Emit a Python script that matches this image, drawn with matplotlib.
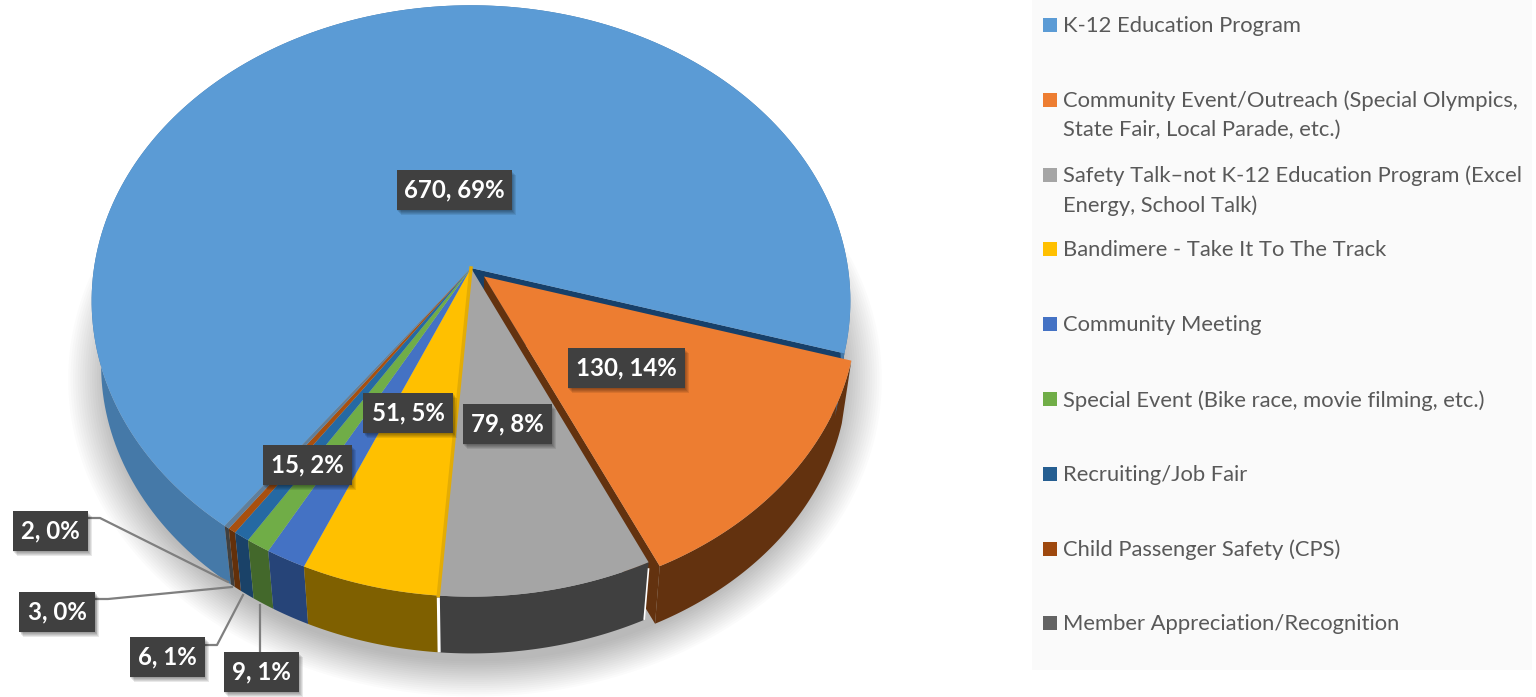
import numpy as np
import matplotlib
matplotlib.use("Agg")
import matplotlib.pyplot as plt
from matplotlib.patches import Rectangle

categories = ["K-12 Education Program",
              "Community Event/Outreach (Special Olympics,\nState Fair, Local Parade, etc.)",
              "Safety Talk\u2013not K-12 Education Program (Excel\nEnergy, School Talk)",
              "Bandimere - Take It To The Track",
              "Community Meeting",
              "Special Event (Bike race, movie filming, etc.)",
              "Recruiting/Job Fair",
              "Child Passenger Safety (CPS)",
              "Member Appreciation/Recognition"]
values = [670, 130, 79, 51, 15, 9, 6, 3, 2]
percents = [69, 14, 8, 5, 2, 1, 1, 0, 0]
colors = ["#5B9BD5", "#ED7D31", "#A5A5A5", "#FFC000", "#4472C4",
          "#70AD47", "#255E91", "#9E480E", "#636363"]
top_colors = ["#5B9BD5", "#ED7D31", "#A5A5A5", "#FFC000", "#4472C4",
              "#70AD47", "#2569A3", "#A8500F", "#5F7F9C"]
side_colors = ["#4579A8", "#63320F", "#404040", "#7F6000", "#264478",
               "#43682B", "#1A4268", "#63300A", "#404040"]

# label box centres, pixels
label_pos = [(454, 190), (626, 368), (507, 424), (408, 413), (307, 465),
             (261, 672), (167, 657), (57, 612), (50, 531)]
label_w = [115, 117, 89, 90, 89, 75, 75, 76, 75]

# pie geometry
cx, cy = 471, 268
rx, ry = 377, 292
persp = 0.1115
start_deg = 216.5
bottom_scale = 0.975
bottom_drop = 65
explode = 0.045
explode_deg = 130
explode_r = 0.98

plt.rcParams['font.family'] = ['Lato', 'DejaVu Sans']

fig = plt.figure(figsize=(15.36, 6.97), dpi=100)
ax = fig.add_axes([0, 0, 1, 1])
ax.set_xlim(0, 1536)
ax.set_ylim(697, 0)
ax.axis('off')


def top_xy(deg, r=1.0, off=0.0):
    # deg is clockwise from twelve o'clock
    a = np.radians(deg)
    u = r * np.sin(a) + off * np.sin(np.radians(explode_deg))
    v = -r * np.cos(a) - off * np.cos(np.radians(explode_deg))
    s = 1 / (1 - persp * v)
    return cx + rx * u * s, cy + ry * v * s


def low_xy(deg, r=1.0, off=0.0):
    x, y = top_xy(deg, r, off)
    return cx + (x - cx) * bottom_scale, cy + bottom_drop + (y - cy) * bottom_scale


edges = start_deg + np.concatenate([[0], np.cumsum(values)]) / sum(values) * 360


def arc(i):
    return np.linspace(edges[i], edges[i + 1], 200)


def offset(i):
    return explode if i == 1 else 0.0


def radius(i):
    return explode_r if i == 1 else 1.0


def draw_wall(i, color):
    t = arc(i)
    x1, y1 = top_xy(t, radius(i), offset(i))
    x2, y2 = low_xy(t, radius(i), offset(i))
    ax.fill(np.r_[x1, x2[::-1]], np.r_[y1, y2[::-1]], color=color, lw=0)


def draw_cut(i, deg, color):
    x1, y1 = top_xy(deg, radius(i), offset(i))
    x2, y2 = top_xy(deg, 0, offset(i))
    x3, y3 = low_xy(deg, 0, offset(i))
    x4, y4 = low_xy(deg, radius(i), offset(i))
    ax.fill([x1, x2, x3, x4], [y1, y2, y3, y4], color=color, lw=0)


def draw_top(i, color):
    t = arc(i)
    x, y = top_xy(t, radius(i), offset(i))
    x0, y0 = top_xy(t[0], 0, offset(i))
    ax.fill(np.r_[x0, x], np.r_[y0, y], color=color, lw=0)


# soft shadow below the pie
t = np.linspace(0, 360, 400)
for grow in np.linspace(1.10, 0.99, 18):
    x, y = low_xy(t)
    x = cx + 4 + (x - cx) * grow
    y = cy + 76 + (y - cy - bottom_drop) * grow
    ax.fill(x, y, color="black", alpha=0.016, lw=0)

# walls first, tops go over them
draw_cut(0, edges[1], "#17406A")
draw_cut(1, edges[2], "#63320F")
draw_wall(1, side_colors[1])
for i in [0, 8, 7, 6, 5, 4, 3, 2]:
    draw_wall(i, side_colors[i])

for i in [0, 2, 3, 4, 5, 6, 7, 8]:
    draw_top(i, top_colors[i])
draw_top(1, top_colors[1])

# seams at the front of the pie
xa, ya = top_xy(edges[3])
xb, yb = low_xy(edges[3])
ax.plot([xa, xb], [ya + 2, yb], color="white", lw=2.2, solid_capstyle='butt')
xa, ya = top_xy(edges[2])
xb, yb = low_xy(edges[2])
ax.plot([xa, xb], [ya + 6, yb], color="white", lw=1.2, solid_capstyle='butt')
xa, ya = top_xy(edges[3])
xb, yb = top_xy(edges[3], 0)
ax.plot([xa, xb], [ya, yb], color="#E3AC05", lw=2.5)

# leader lines for the small slices
leaders = [([87, 100, 228], [518, 518, 582]),
           ([95, 108, 232], [599, 599, 587]),
           ([204, 217, 243], [645, 645, 595]),
           ([260, 260], [652, 605])]
for lx, ly in leaders:
    ax.plot(lx, ly, color="#7F7F7F", lw=1.6, zorder=3)

# data labels
for v, p, (lxc, lyc), w in zip(values, percents, label_pos, label_w):
    for k in range(1, 6):
        ax.add_patch(Rectangle((lxc - w / 2 + k * 0.8, lyc - 20 + k * 0.9), w, 40,
                               color="black", alpha=0.09, lw=0, zorder=4))
    ax.add_patch(Rectangle((lxc - w / 2, lyc - 20), w, 40, color="#404040", lw=0, zorder=5))
    ax.text(lxc, lyc, f"{v}, {p}%", color="white", fontsize=17.3, fontweight='bold',
            ha='center', va='center', zorder=6)

# legend panel
ax.add_patch(Rectangle((1032, 0), 500, 670, color="#FAFAFA", lw=0, zorder=0))
for i, (name, c) in enumerate(zip(categories, colors)):
    ly = 25 + 74.8 * i
    ax.add_patch(Rectangle((1043, ly - 7), 14, 14, color=c, lw=0))
    ax.text(1063, ly - 9, name, color="#595959", fontsize=15.8, ha='left', va='top',
            linespacing=1.56)

fig.savefig("out.png", dpi=100)
